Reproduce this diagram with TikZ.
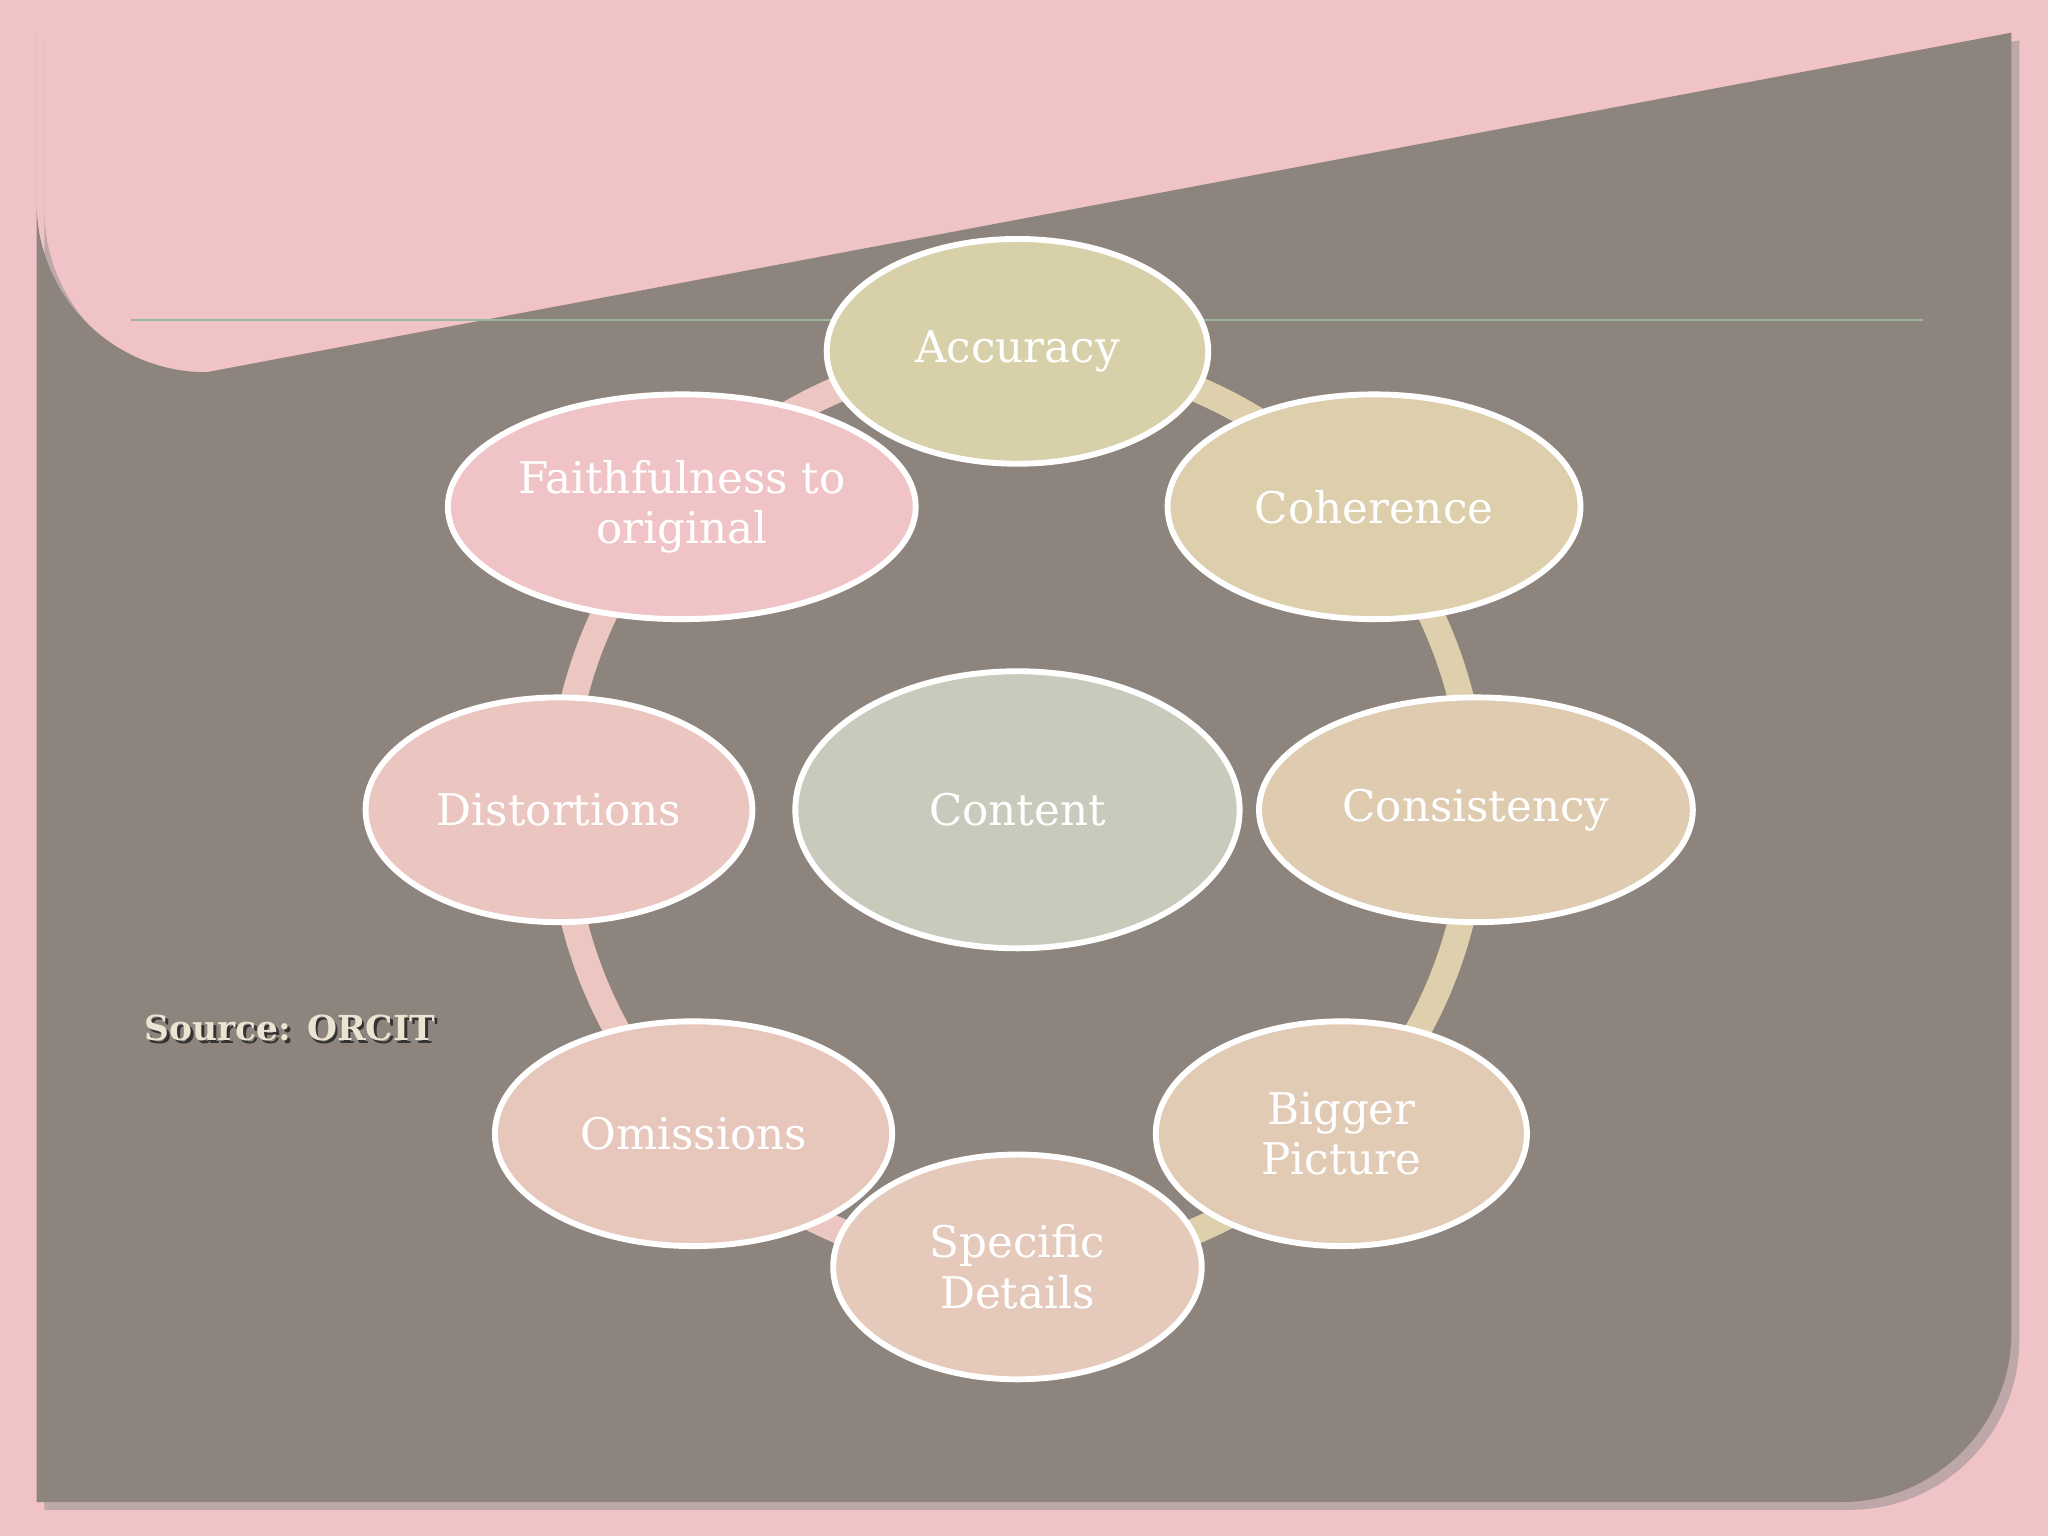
\documentclass[tikz,border=0pt]{standalone}
\usepackage{fontspec}
\usetikzlibrary{shapes.geometric}
\setmainfont{DejaVu Serif}
\begin{document}
\begin{tikzpicture}[x=0.01cm,y=-0.01cm]
\definecolor{bgpink}{RGB}{240,196,198}
\definecolor{panel}{RGB}{141,132,125}
\tikzset{el/.style={ellipse,draw=white,line width=0.045cm,minimum height=1.72cm,inner sep=0pt},
 lbl/.style={text=white,font=\fontsize{9.5}{11}\selectfont,align=center}}
\fill[bgpink] (0,0) rectangle (1568,1176);
\useasboundingbox (0,0) rectangle (1568,1176);
\fill[black!45,opacity=0.5] (34,31) -- (34,161) arc[start angle=180,end angle=90,radius=130] -- (1546,31) -- (1546,1026) arc[start angle=0,end angle=90,radius=130] -- (34,1156) -- cycle;
\fill[panel] (28,25) -- (28,155) arc[start angle=180,end angle=90,radius=130] -- (1540,25) -- (1540,1020) arc[start angle=0,end angle=90,radius=130] -- (28,1150) -- cycle;
\draw[black!70!green!40,line width=0.02cm] (100,245) -- (1472,245);
% ring
\draw[line width=0.2cm,color={rgb,255:red,222;green,208;blue,172}] (779,270) arc[start angle=-90,end angle=90,radius=350];
\draw[line width=0.2cm,color={rgb,255:red,236;green,198;blue,193}] (779,270) arc[start angle=270,end angle=90,radius=350];
\node[el,minimum width=2.92cm,fill={rgb,255:red,216;green,208;blue,168}] (acc) at (779,269) {};
\node[el,minimum width=3.16cm,fill={rgb,255:red,221;green,207;blue,172}] (coh) at (1052,388) {};
\node[el,minimum width=3.32cm,fill={rgb,255:red,222;green,203;blue,176}] (con) at (1130,620) {};
\node[el,minimum width=2.84cm,fill={rgb,255:red,226;green,203;blue,181}] (big) at (1027,868) {};
\node[el,minimum width=3.04cm,fill={rgb,255:red,231;green,199;blue,188}] (omi) at (531,868) {};
\node[el,minimum width=2.82cm,fill={rgb,255:red,229;green,201;blue,186}] (spe) at (779,970) {};
\node[el,minimum width=2.96cm,fill={rgb,255:red,235;green,197;blue,192}] (dis) at (428,620) {};
\node[el,minimum width=3.58cm,fill={rgb,255:red,240;green,196;blue,198}] (fai) at (522,388) {};
\node[el,minimum width=3.4cm,minimum height=2.12cm,fill={rgb,255:red,202;green,202;blue,188}] (cnt) at (779,620) {};
\node[lbl] at (acc) {Accuracy};
\node[lbl] at (coh) {Coherence};
\node[lbl] at (con) {Consistency};
\node[lbl] at (big) {Bigger\\Picture};
\node[lbl] at (spe) {Specific\\Details};
\node[lbl] at (omi) {Omissions};
\node[lbl] at (dis) {Distortions};
\node[lbl] at (fai) {Faithfulness to\\original};
\node[lbl] at (cnt) {Content};
\node[text=black!80,font=\bfseries\fontsize{7.5}{9}\selectfont] at (224,789) {Source: ORCIT};
\node[text={rgb,255:red,235;green,228;blue,210},font=\bfseries\fontsize{7.5}{9}\selectfont] (src) at (222,787) {Source: ORCIT};
\end{tikzpicture}
\end{document}
